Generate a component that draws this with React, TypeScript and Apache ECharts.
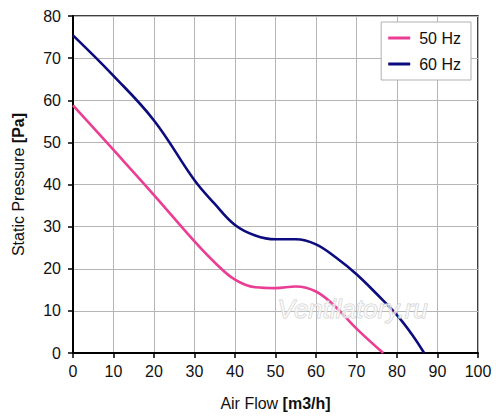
import React, { useEffect, useRef } from "react";
import * as echarts from "echarts";

const xTicks = [0, 10, 20, 30, 40, 50, 60, 70, 80, 90, 100];
const yTicks = [0, 10, 20, 30, 40, 50, 60, 70, 80];
const seriesNames = ["50 Hz", "60 Hz"];
const flow50 = [0, 10, 20, 30, 35, 40, 45, 50, 55, 60, 65, 70, 76.6];
const pressure50 = [58.8, 48.2, 37.5, 26.5, 21.5, 17.4, 15.6, 15.4, 15.8, 14.6, 10.8, 5.8, 0];
const flow60 = [0, 10, 20, 30, 35, 40, 45, 50, 55, 60, 65, 70, 75, 80, 84, 86.7];
const pressure60 = [75.4, 65.8, 55.2, 41, 35.4, 30.4, 27.9, 27, 27, 25.8, 22.6, 18.7, 14, 9, 4, 0];

export default function App() {
  const ref = useRef<HTMLDivElement>(null);
  useEffect(() => {
    if (!ref.current) return;
    const chart = echarts.init(ref.current, null, { renderer: "svg" });
    const font = "Liberation Sans, Arial, Helvetica, sans-serif";
    chart.setOption({
      animation: false,
      backgroundColor: "#ffffff",
      textStyle: { fontFamily: font },
      grid: { left: 73, right: 22, top: 16, bottom: 66, show: true, borderColor: "#000", borderWidth: 1.5, backgroundColor: "transparent" },
      legend: {
        data: seriesNames,
        orient: "vertical",
        right: 29,
        top: 22,
        backgroundColor: "#fff",
        borderColor: "#b0b0b0",
        borderWidth: 1,
        padding: [8, 10, 8, 7],
        itemGap: 10,
        itemWidth: 22,
        itemHeight: 3,
        icon: "rect",
        textStyle: { fontSize: 16, color: "#111", fontFamily: font, padding: [0, 0, 0, 4] },
      },
      xAxis: {
        type: "value",
        min: 0,
        max: 100,
        interval: 10,
        name: "{n|Air Flow }{b|[m3/h]}",
        nameLocation: "middle",
        nameGap: 42,
        nameTextStyle: { rich: { n: { fontSize: 16, color: "#111", fontFamily: font }, b: { fontSize: 16, fontWeight: "bold", color: "#111", fontFamily: font } } },
        axisLine: { lineStyle: { color: "#000", width: 2 } },
        axisTick: { show: true, length: 5, lineStyle: { color: "#000", width: 1.5 } },
        axisLabel: { fontSize: 16, color: "#111", margin: 10, fontFamily: font },
        splitLine: { show: true, lineStyle: { color: "#b5b5b5", width: 1 } },
      },
      yAxis: {
        type: "value",
        min: 0,
        max: 80,
        interval: 10,
        name: "{n|Static Pressure }{b|[Pa]}",
        nameLocation: "middle",
        nameGap: 47,
        nameRotate: 90,
        nameTextStyle: { rich: { n: { fontSize: 16, color: "#111", fontFamily: font }, b: { fontSize: 16, fontWeight: "bold", color: "#111", fontFamily: font } } },
        axisLine: { show: true, lineStyle: { color: "#000", width: 2 } },
        axisTick: { show: true, length: 5, lineStyle: { color: "#000", width: 1.5 } },
        axisLabel: { fontSize: 16, color: "#111", margin: 12, fontFamily: font },
        splitLine: { show: true, lineStyle: { color: "#b5b5b5", width: 1 } },
      },
      graphic: [
        {
          type: "text",
          left: 277,
          top: 295,
          silent: true,
          style: {
            text: "Ventilatory.ru",
            fontSize: 26,
            fontStyle: "italic",
            fontFamily: font,
            fill: "rgba(255,255,255,0.6)",
            stroke: "#cfcfcf",
            lineWidth: 1,
          },
          z: 100,
        },
      ],
      series: [
        {
          name: seriesNames[0],
          type: "line",
          smooth: 0.4,
          showSymbol: false,
          symbol: "none",
          color: "#ea3d93",
          lineStyle: { width: 2.6, color: "#ea3d93" },
          data: flow50.map((x, i) => [x, pressure50[i]]),
          z: 3,
        },
        {
          name: seriesNames[1],
          type: "line",
          smooth: 0.4,
          showSymbol: false,
          symbol: "none",
          color: "#0c0c7e",
          lineStyle: { width: 2.6, color: "#0c0c7e" },
          data: flow60.map((x, i) => [x, pressure60[i]]),
          z: 3,
        },
      ],
    });
    return () => chart.dispose();
  }, []);
  return <div ref={ref} style={{ position: "fixed", left: 0, top: 0, width: 500, height: 419 }} />;
}
